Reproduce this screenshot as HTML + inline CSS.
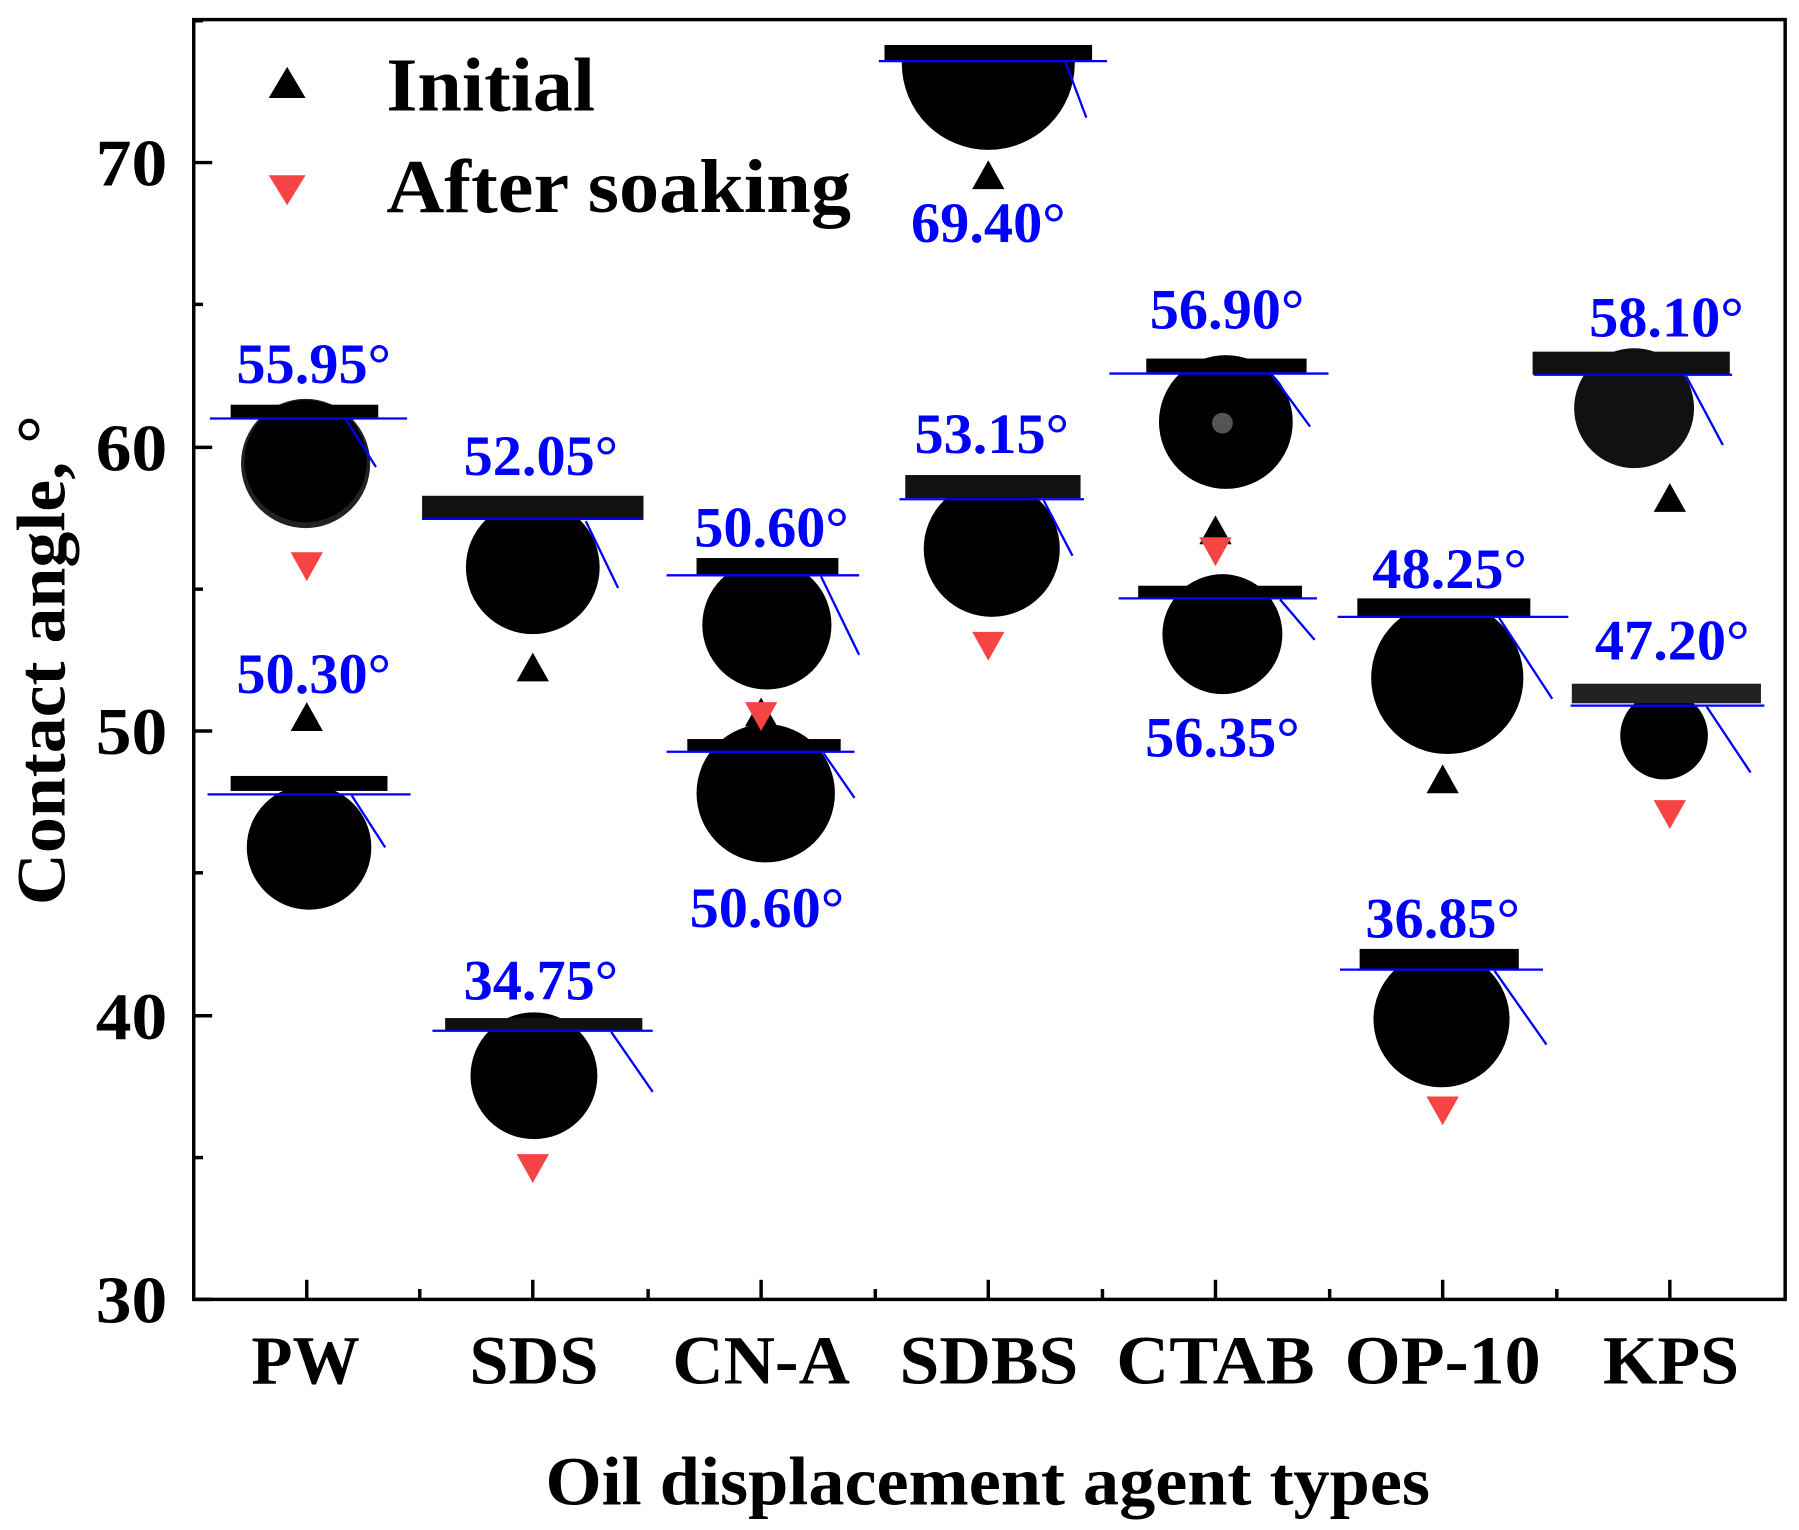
<!DOCTYPE html>
<html><head><meta charset="utf-8"><style>html,body{margin:0;padding:0;background:#fff}svg{display:block}</style></head>
<body>
<svg width="1799" height="1530" viewBox="0 0 1560 1327" preserveAspectRatio="none" xmlns="http://www.w3.org/2000/svg" font-family="Liberation Serif, serif" font-weight="bold">
<rect x="0" y="0" width="1560" height="1327" fill="#fff"/>
<!-- droplet images -->
<g id="drops">
<!-- helper: bar, circle, blue line, tangent -->
<!-- PW top -->
<circle cx="265" cy="402" r="56" fill="#222"/><circle cx="265" cy="400" r="53" fill="#000"/>
<rect x="200" y="351" width="128" height="12" fill="#000"/>
<line x1="182" y1="363" x2="353" y2="363" stroke="#00f" stroke-width="2"/>
<line x1="300" y1="364" x2="326" y2="405" stroke="#00f" stroke-width="2"/>
<!-- PW bottom -->
<circle cx="268" cy="735" r="54" fill="#000"/>
<rect x="200" y="673" width="136" height="13" fill="#000"/>
<line x1="180" y1="689" x2="356" y2="689" stroke="#00f" stroke-width="2"/>
<line x1="305" y1="690" x2="334" y2="735" stroke="#00f" stroke-width="2"/>
<!-- SDS top -->
<circle cx="462" cy="492" r="58" fill="#000"/>
<rect x="366" y="430" width="192" height="21" fill="#111"/>
<line x1="366" y1="450" x2="558" y2="450" stroke="#00f" stroke-width="2"/>
<line x1="508" y1="452" x2="536" y2="510" stroke="#00f" stroke-width="2"/>
<!-- SDS bottom -->
<circle cx="463" cy="933" r="55" fill="#000"/>
<rect x="386" y="883" width="171" height="11" fill="#111"/>
<line x1="375" y1="894" x2="566" y2="894" stroke="#00f" stroke-width="2"/>
<line x1="530" y1="895" x2="566" y2="947" stroke="#00f" stroke-width="2"/>
<!-- CN-A top -->
<circle cx="665" cy="542" r="56" fill="#000"/>
<rect x="604" y="484" width="123" height="15" fill="#000"/>
<line x1="578" y1="499" x2="745" y2="499" stroke="#00f" stroke-width="2"/>
<line x1="712" y1="500" x2="745" y2="568" stroke="#00f" stroke-width="2"/>
<!-- CN-A bottom -->
<circle cx="664" cy="688" r="60" fill="#000"/>
<rect x="596" y="641" width="133" height="11" fill="#000"/>
<line x1="578" y1="652" x2="741" y2="652" stroke="#00f" stroke-width="2"/>
<line x1="714" y1="653" x2="741" y2="692" stroke="#00f" stroke-width="2"/>
<!-- SDBS top -->
<clipPath id="c1"><rect x="700" y="53" width="300" height="100"/></clipPath>
<circle cx="857" cy="55" r="75" fill="#000" clip-path="url(#c1)"/>
<rect x="767" y="39" width="180" height="14" fill="#000"/>
<line x1="762" y1="53" x2="960" y2="53" stroke="#00f" stroke-width="2"/>
<line x1="924" y1="54" x2="942" y2="102" stroke="#00f" stroke-width="2"/>
<!-- SDBS mid -->
<circle cx="860" cy="476" r="59" fill="#000"/>
<rect x="785" y="412" width="152" height="20" fill="#111"/>
<line x1="780" y1="433" x2="940" y2="433" stroke="#00f" stroke-width="2"/>
<line x1="905" y1="434" x2="930" y2="482" stroke="#00f" stroke-width="2"/>
<!-- CTAB top -->
<circle cx="1063" cy="366" r="58" fill="#000"/>
<circle cx="1060" cy="367" r="9" fill="#555"/>
<rect x="994" y="311" width="139" height="12" fill="#000"/>
<line x1="962" y1="324" x2="1152" y2="324" stroke="#00f" stroke-width="2"/>
<line x1="1103" y1="325" x2="1136" y2="370" stroke="#00f" stroke-width="2"/>
<!-- CTAB bottom -->
<circle cx="1060" cy="550" r="52" fill="#000"/>
<rect x="987" y="508" width="142" height="11" fill="#000"/>
<line x1="970" y1="519" x2="1142" y2="519" stroke="#00f" stroke-width="2"/>
<line x1="1110" y1="520" x2="1140" y2="555" stroke="#00f" stroke-width="2"/>
<!-- OP-10 top -->
<circle cx="1255" cy="588" r="66" fill="#000"/>
<rect x="1177" y="519" width="150" height="16" fill="#000"/>
<line x1="1160" y1="535" x2="1360" y2="535" stroke="#00f" stroke-width="2"/>
<line x1="1300" y1="536" x2="1346" y2="606" stroke="#00f" stroke-width="2"/>
<!-- OP-10 bottom -->
<circle cx="1250" cy="884" r="59" fill="#000"/>
<rect x="1179" y="823" width="138" height="18" fill="#000"/>
<line x1="1162" y1="841" x2="1338" y2="841" stroke="#00f" stroke-width="2"/>
<line x1="1296" y1="842" x2="1341" y2="906" stroke="#00f" stroke-width="2"/>
<!-- KPS top -->
<circle cx="1417" cy="354" r="52" fill="#111"/>
<rect x="1329" y="305" width="171" height="20" fill="#111"/>
<line x1="1330" y1="325" x2="1502" y2="325" stroke="#00f" stroke-width="2"/>
<line x1="1462" y1="326" x2="1494" y2="386" stroke="#00f" stroke-width="2"/>
<!-- KPS bottom -->
<circle cx="1443" cy="638" r="38" fill="#000"/>
<rect x="1363" y="593" width="164" height="17" fill="#222"/>
<line x1="1362" y1="612" x2="1530" y2="612" stroke="#00f" stroke-width="2"/>
<line x1="1480" y1="613" x2="1518" y2="670" stroke="#00f" stroke-width="2"/>
</g>
<!-- markers -->
<g fill="#000">
<polygon points="266,609 252,634 280,634"/>
<polygon points="462,566 448,591 476,591"/>
<polygon points="660,605 646,630 674,630"/>
<polygon points="857,139 843,164 871,164"/>
<polygon points="1054,447 1040,472 1068,472"/>
<polygon points="1251,663 1237,688 1265,688"/>
<polygon points="1448,419 1434,444 1462,444"/>
<polygon points="249,58 233,85 265,85"/>
</g>
<g fill="#f44444">
<polygon points="266,504 252,479 280,479"/>
<polygon points="462,1026 448,1001 476,1001"/>
<polygon points="660,634 646,609 674,609"/>
<polygon points="857,573 843,548 871,548"/>
<polygon points="1054,491 1040,466 1068,466"/>
<polygon points="1251,976 1237,951 1265,951"/>
<polygon points="1448,719 1434,694 1462,694"/>
<polygon points="249,178 233,152 265,152"/>
</g>
<!-- blue labels -->
<g fill="#0000ff" font-size="50" text-anchor="middle" lengthAdjust="spacingAndGlyphs">
<text x="272" y="332" textLength="134" lengthAdjust="spacingAndGlyphs">55.95°</text>
<text x="272" y="601" textLength="134" lengthAdjust="spacingAndGlyphs">50.30°</text>
<text x="469" y="412" textLength="134" lengthAdjust="spacingAndGlyphs">52.05°</text>
<text x="469" y="867" textLength="134" lengthAdjust="spacingAndGlyphs">34.75°</text>
<text x="669" y="474" textLength="134" lengthAdjust="spacingAndGlyphs">50.60°</text>
<text x="665" y="804" textLength="134" lengthAdjust="spacingAndGlyphs">50.60°</text>
<text x="857" y="210" textLength="134" lengthAdjust="spacingAndGlyphs">69.40°</text>
<text x="860" y="393" textLength="134" lengthAdjust="spacingAndGlyphs">53.15°</text>
<text x="1064" y="285" textLength="134" lengthAdjust="spacingAndGlyphs">56.90°</text>
<text x="1060" y="656" textLength="134" lengthAdjust="spacingAndGlyphs">56.35°</text>
<text x="1257" y="510" textLength="134" lengthAdjust="spacingAndGlyphs">48.25°</text>
<text x="1251" y="813" textLength="134" lengthAdjust="spacingAndGlyphs">36.85°</text>
<text x="1445" y="292" textLength="134" lengthAdjust="spacingAndGlyphs">58.10°</text>
<text x="1450" y="572" textLength="134" lengthAdjust="spacingAndGlyphs">47.20°</text>
</g>
<!-- legend -->
<g fill="#000" font-size="66">
<text x="335" y="96" textLength="181" lengthAdjust="spacingAndGlyphs">Initial</text>
<text x="335" y="184" textLength="403" lengthAdjust="spacingAndGlyphs">After soaking</text>
</g>
<!-- axes frame -->
<rect x="168" y="17" width="1380" height="1110" fill="none" stroke="#000" stroke-width="3"/>
<g stroke="#000" stroke-width="3">
<!-- y major ticks -->
<line x1="168" y1="1127" x2="184" y2="1127"/><line x1="168" y1="881" x2="184" y2="881"/>
<line x1="168" y1="634" x2="184" y2="634"/><line x1="168" y1="388" x2="184" y2="388"/>
<line x1="168" y1="141" x2="184" y2="141"/>
<line x1="168" y1="1004" x2="176" y2="1004"/><line x1="168" y1="757" x2="176" y2="757"/>
<line x1="168" y1="511" x2="176" y2="511"/><line x1="168" y1="264" x2="176" y2="264"/>
<line x1="168" y1="18" x2="176" y2="18"/>
<!-- x ticks -->
<line x1="266" y1="1127" x2="266" y2="1110"/><line x1="462" y1="1127" x2="462" y2="1110"/>
<line x1="660" y1="1127" x2="660" y2="1110"/><line x1="857" y1="1127" x2="857" y2="1110"/>
<line x1="1054" y1="1127" x2="1054" y2="1110"/><line x1="1251" y1="1127" x2="1251" y2="1110"/>
<line x1="1448" y1="1127" x2="1448" y2="1110"/>
<line x1="364" y1="1127" x2="364" y2="1118"/><line x1="562" y1="1127" x2="562" y2="1118"/>
<line x1="759" y1="1127" x2="759" y2="1118"/><line x1="956" y1="1127" x2="956" y2="1118"/>
<line x1="1153" y1="1127" x2="1153" y2="1118"/><line x1="1350" y1="1127" x2="1350" y2="1118"/>
</g>
<!-- tick labels -->
<g fill="#000" font-size="58" text-anchor="end">
<text x="145" y="1147" textLength="62" lengthAdjust="spacingAndGlyphs">30</text>
<text x="145" y="901" textLength="62" lengthAdjust="spacingAndGlyphs">40</text>
<text x="145" y="654" textLength="62" lengthAdjust="spacingAndGlyphs">50</text>
<text x="145" y="408" textLength="62" lengthAdjust="spacingAndGlyphs">60</text>
<text x="145" y="161" textLength="62" lengthAdjust="spacingAndGlyphs">70</text>
</g>
<g fill="#000" font-size="60">
<text x="218" y="1200" textLength="94" lengthAdjust="spacingAndGlyphs">PW</text>
<text x="407" y="1200" textLength="112" lengthAdjust="spacingAndGlyphs">SDS</text>
<text x="583" y="1200" textLength="154" lengthAdjust="spacingAndGlyphs">CN-A</text>
<text x="780" y="1200" textLength="155" lengthAdjust="spacingAndGlyphs">SDBS</text>
<text x="968" y="1200" textLength="172" lengthAdjust="spacingAndGlyphs">CTAB</text>
<text x="1166" y="1200" textLength="170" lengthAdjust="spacingAndGlyphs">OP-10</text>
<text x="1390" y="1200" textLength="118" lengthAdjust="spacingAndGlyphs">KPS</text>
</g>
<text x="473" y="1305" font-size="60" fill="#000" textLength="767" lengthAdjust="spacingAndGlyphs">Oil displacement agent types</text>
<text transform="translate(56,785) rotate(-90)" font-size="60" fill="#000" textLength="425" lengthAdjust="spacingAndGlyphs">Contact angle, °</text>
</svg>
</body></html>
